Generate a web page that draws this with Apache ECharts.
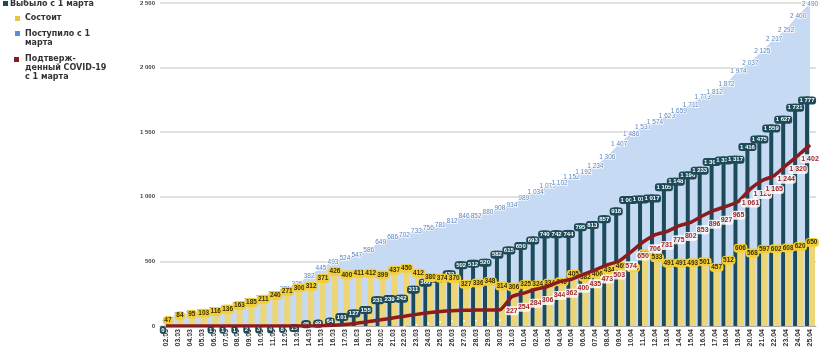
<!DOCTYPE html>
<html><head><meta charset="utf-8">
<script src="https://cdn.jsdelivr.net/npm/echarts@6/dist/echarts.min.js"></script>
<style>html,body{margin:0;padding:0;background:#fff}#c{width:820px;height:350px}</style>
</head><body><div id="c"></div>
<script>
const dates = ['02.03','03.03','04.03','05.03','06.03','07.03','08.03','09.03','10.03','11.03','12.03','13.03','14.03','15.03','16.03','17.03','18.03','19.03','20.03','21.03','22.03','23.03','24.03','25.03','26.03','27.03','28.03','29.03','30.03','31.03','01.04','02.04','03.04','04.04','05.04','06.04','07.04','08.04','09.04','10.04','11.04','12.04','13.04','14.04','15.04','16.04','17.04','18.04','19.04','20.04','21.04','22.04','23.04','24.04','25.04'];
const discharged = [0,null,null,null,1,1,1,2,3,4,8,15,45,49,64,101,127,155,231,239,242,311,366,397,432,502,512,520,582,615,650,693,740,742,744,795,813,857,918,1007,1011,1017,1105,1148,1196,1233,1301,1311,1317,1416,1475,1559,1627,1721,1777];
const current = [47,84,95,103,116,136,163,185,211,240,271,300,312,371,426,400,411,412,399,437,450,412,380,374,370,327,336,348,314,306,325,324,334,346,405,382,406,434,469,454,563,533,491,491,493,501,457,512,606,568,597,602,608,620,650];
const admitted = [47,85,97,105,119,138,164,190,216,246,281,325,382,445,493,524,547,586,649,686,702,733,756,781,812,846,852,880,908,934,989,1034,1079,1102,1152,1192,1234,1306,1407,1486,1537,1574,1623,1659,1711,1773,1812,1872,1974,2037,2125,2217,2292,2400,2490];
const covid = [0,0,0,0,0,0,0,0,0,0,0,0,0,2,5,12,22,35,48,62,76,90,102,112,118,121,123,124,126,227,254,284,306,344,362,400,435,473,503,574,650,706,731,775,802,853,896,927,965,1061,1126,1165,1244,1320,1402];
const covidLabelFrom = 29;
const yTicks = {min:0, max:2500, step:500};

function fmt(v){ v = Math.round(v); if (v >= 1000) return Math.floor(v/1000) + ' ' + String(v%1000).padStart(3,'0'); return String(v); }

const FONT = '"DejaVu Sans", "Liberation Sans", sans-serif';
const FONT2 = '"Liberation Sans", Arial, sans-serif';
const chart = echarts.init(document.getElementById('c'), null, {renderer:'canvas'});
chart.setOption({
  animation:false,
  backgroundColor:'#fff',
  textStyle:{fontFamily:FONT2},
  grid:{left:160, width:656, top:-3, height:329},
  xAxis:{type:'category', data:dates, boundaryGap:true,
    axisLine:{lineStyle:{color:'#aaa'}}, axisTick:{show:false},
    axisLabel:{interval:0, rotate:90, fontSize:7, fontWeight:'bold', color:'#333', margin:3, fontFamily:FONT2}},
  yAxis:{type:'value', min:yTicks.min, max:yTicks.max, interval:yTicks.step,
    axisLine:{show:false}, axisTick:{show:false},
    splitLine:{lineStyle:{color:'#d6d6d6', width:1.5}},
    axisLabel:{formatter:fmt, fontSize:6, fontWeight:'bold', color:'#444', margin:5, fontFamily:FONT2}},
  series:[
    {name:'Поступило с 1 марта', type:'line', data:admitted, symbol:'circle', symbolSize:1, showSymbol:true, z:1,
      itemStyle:{color:'rgba(0,0,0,0)'},
      lineStyle:{width:1, color:'#bcd2ef'}, areaStyle:{color:'#c7daf3', opacity:1},
      label:{show:true, position:'inside', formatter:p=>fmt(p.value), fontSize:6.5, color:'#5a84c0', fontFamily:FONT2,
        textBorderColor:'#fff', textBorderWidth:1.5}},
    {name:'Выбыло с 1 марта', type:'bar', data:discharged, barWidth:4, barGap:'0%', z:2,
      itemStyle:{color:'#1d4a58'},
      label:{show:true, position:'insideTop', distance:0, formatter:p=>fmt(p.value), fontSize:6, fontWeight:'bold', color:'#fff',
        backgroundColor:'#1d4a58', padding:[1,1.5], borderRadius:3, fontFamily:FONT2}},
    {name:'Состоит', type:'bar', data:current, barWidth:6, z:2,
      itemStyle:{color:'#ecd675'},
      label:{show:true, position:'top', distance:-5, formatter:p=>fmt(p.value), fontSize:6.5, fontWeight:'bold', color:'#3a3000',
        backgroundColor:'#f2cf3a', padding:[1,1.5], borderRadius:4, fontFamily:FONT2}},
    {name:'Подтверж-денный COVID-19 с 1 марта', type:'line', data:covid, symbol:'circle', symbolSize:1, showSymbol:true, z:3, smooth:0.2,
      itemStyle:{color:'rgba(0,0,0,0)'},
      lineStyle:{width:3.5, color:'#8a1c1f'},
      label:{show:true, position:'bottom', distance:9, formatter:p=>p.dataIndex>=covidLabelFrom?fmt(p.value):'',
        fontSize:7, fontWeight:'bold', color:'#a5262a', backgroundColor:'rgba(255,255,255,0.85)', padding:[1,1], borderRadius:3, fontFamily:FONT2}}
  ],
  graphic:[
    {type:'rect', shape:{x:3,y:1,width:5,height:5}, style:{fill:'#1d4a58'}},
    {type:'text', x:10, y:4, style:{text:'Выбыло с 1 марта', font:'bold 8px '+FONT, fill:'#333', textVerticalAlign:'middle'}},
    {type:'rect', shape:{x:15,y:16,width:5,height:5}, style:{fill:'#e8c547'}},
    {type:'text', x:25, y:18, style:{text:'Состоит', font:'bold 8px '+FONT, fill:'#333', textVerticalAlign:'middle'}},
    {type:'rect', shape:{x:15,y:31,width:5,height:5}, style:{fill:'#5b8ed6'}},
    {type:'text', x:25, y:29, style:{text:'Поступило с 1\nмарта', font:'bold 8px '+FONT, fill:'#333', lineHeight:9}},
    {type:'rect', shape:{x:14,y:57,width:5,height:5}, style:{fill:'#8a1c1f'}},
    {type:'text', x:25, y:54, style:{text:'Подтверж-\nденный COVID-19\nс 1 марта', font:'bold 8px '+FONT, fill:'#333', lineHeight:9}}
  ]
});
</script></body></html>
